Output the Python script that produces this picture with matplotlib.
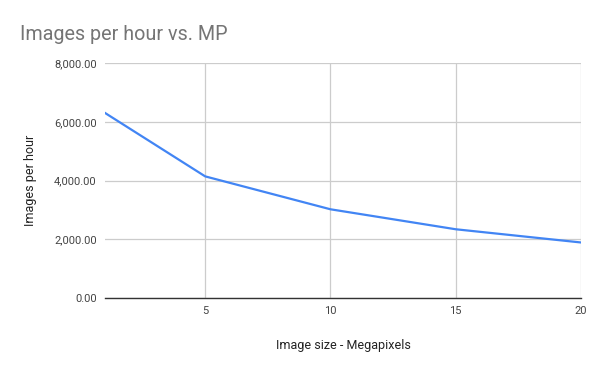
import matplotlib
matplotlib.use("Agg")
import matplotlib.pyplot as plt
from matplotlib.ticker import FuncFormatter

plt.rcParams['font.family'] = ['Roboto', 'DejaVu Sans']

megapixels = [1, 5, 10, 15, 20]
images_per_hour = [6300, 4140, 3020, 2340, 1890]
x_ticks = [5, 10, 15, 20]
y_ticks = [0, 2000, 4000, 6000, 8000]

fig = plt.figure(figsize=(6, 3.71), dpi=100)
ax = fig.add_axes([105/600, 1 - 298/371, 476/600, 235/371])

ax.plot(megapixels, images_per_hour, color='#4285f4', lw=1.6, zorder=3)

ax.set_xlim(1, 20)
ax.set_ylim(0, 8000)
ax.set_xticks(x_ticks)
ax.set_yticks(y_ticks)
ax.yaxis.set_major_formatter(FuncFormatter(lambda v, p: f"{v:,.2f}"))
ax.grid(True, color='#cccccc', lw=0.9)
ax.set_axisbelow(True)
ax.tick_params(length=0, labelsize=8, colors='#444444', pad=6)
for side in ['top', 'right', 'left']:
    ax.spines[side].set_visible(False)
ax.spines['bottom'].set_color('#333333')
ax.spines['bottom'].set_linewidth(1.0)

ax.set_xlabel('Image size - Megapixels', fontsize=9, color='#222222', labelpad=16)
ax.set_ylabel('Images per hour', fontsize=9, color='#222222', labelpad=12)
fig.text(20/600, 1 - 35/371, 'Images per hour vs. MP', fontsize=14.2, color='#757575', va='center')

fig.savefig('out.png', dpi=100)
